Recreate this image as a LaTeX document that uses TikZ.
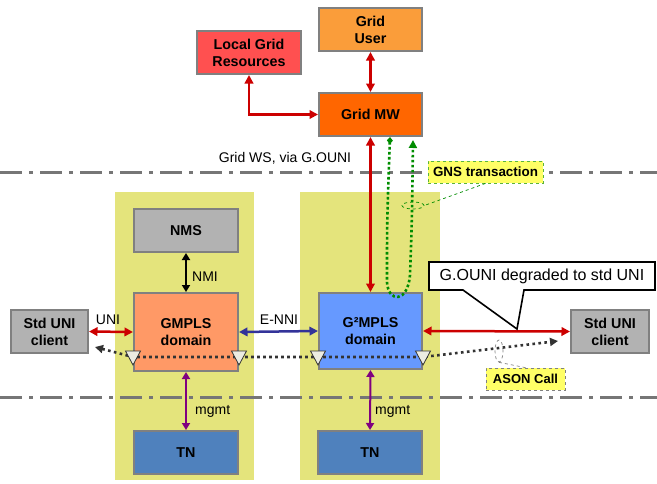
\documentclass[tikz,border=0pt]{standalone}
\usepackage{fontspec}
\setmainfont{Liberation Sans}
\usetikzlibrary{arrows.meta,shapes.geometric}
\definecolor{panel}{RGB}{228,228,124}
\definecolor{sepgray}{RGB}{118,118,118}
\definecolor{boxgray}{RGB}{128,128,128}
\definecolor{usercol}{RGB}{250,157,58}
\definecolor{lgrcol}{RGB}{255,80,80}
\definecolor{mwcol}{RGB}{255,102,0}
\definecolor{gmplscol}{RGB}{255,153,102}
\definecolor{gtwocol}{RGB}{102,153,255}
\definecolor{tncol}{RGB}{79,129,189}
\definecolor{graycol}{RGB}{178,178,178}
\definecolor{redA}{RGB}{204,0,0}
\definecolor{blueA}{RGB}{51,51,153}
\definecolor{purpA}{RGB}{128,0,128}
\definecolor{greenA}{RGB}{0,140,0}
\definecolor{greenL}{RGB}{90,180,60}
\definecolor{yellowL}{RGB}{255,255,102}
\definecolor{asongray}{RGB}{51,51,51}
\definecolor{trifill}{RGB}{236,236,226}
\begin{document}
\begin{tikzpicture}[x=1pt,y=-1pt,
  box/.style={draw=boxgray, line width=2pt, inner sep=0pt, align=center,
    font=\bfseries\fontsize{14.3}{17}\selectfont},
  lbl/.style={inner sep=0pt, font=\fontsize{14}{16}\selectfont},
  septline/.style={draw=sepgray, line width=3pt, dash pattern=on 22pt off 7pt on 4pt off 7pt},
  redarrow/.style={draw=redA, line width=2.5pt, {Triangle[length=8.5pt,width=8.5pt]}-{Triangle[length=8.5pt,width=8.5pt]}},
  bluearrow/.style={draw=blueA, line width=2.5pt, {Triangle[length=8.5pt,width=8.5pt]}-{Triangle[length=8.5pt,width=8.5pt]}},
  blackarrow/.style={draw=black, line width=2pt, {Triangle[length=7pt,width=8pt]}-{Triangle[length=7pt,width=8pt]}},
  purparrow/.style={draw=purpA, line width=2pt, {Triangle[length=7pt,width=8pt]}-{Triangle[length=7pt,width=8pt]}},
  gdot/.style={draw=greenA, line width=2.6pt, dash pattern=on 2.6pt off 2.4pt},
  asonline/.style={draw=asongray, line width=2.6pt, dash pattern=on 2.6pt off 3.4pt},
  tagbox/.style={inner sep=0pt, fill=yellowL},
  tri/.style={draw=asongray, line width=0.8pt, fill=trifill}
]
\useasboundingbox (0,0) rectangle (657,483);

% panels
\fill[panel] (115,192) rectangle (254,480);
\fill[panel] (300,192) rectangle (440,480);

% separator lines
\draw[septline] (0,172) -- (657,172);
\draw[septline] (0,397) -- (657,397);

% boxes
\node[box, fill=usercol, minimum width=103pt, minimum height=43pt] (user) at (370.5,29.5) {Grid\\User};
\node[box, fill=lgrcol, minimum width=104pt, minimum height=43pt] (lgr) at (249,52.5) {Local Grid\\Resources};
\node[box, fill=mwcol, minimum width=103pt, minimum height=43pt] (mw) at (370.5,114.5) {Grid MW};
\node[box, fill=graycol, minimum width=104pt, minimum height=43pt] (nms) at (186,230.5) {NMS};
\node[box, fill=gmplscol, minimum width=104pt, minimum height=78pt] (gmpls) at (186,332) {GMPLS\\domain};
\node[box, fill=gtwocol, minimum width=103pt, minimum height=76pt] (g2) at (370.5,331) {G²MPLS\\domain};
\node[box, fill=graycol, minimum width=77pt, minimum height=43pt] (cl) at (49.5,331.5) {Std UNI\\client};
\node[box, fill=graycol, minimum width=78pt, minimum height=43pt] (cr) at (610,331.5) {Std UNI\\client};
\node[box, fill=tncol, minimum width=104pt, minimum height=43pt] (tn1) at (186,452.5) {TN};
\node[box, fill=tncol, minimum width=104pt, minimum height=43pt] (tn2) at (370,452.5) {TN};

% connectors
\draw[redarrow] (user.south) -- (mw.north);
\draw[redarrow] (lgr.south) |- (mw.west);
\draw[redarrow] (mw.south) -- (g2.north);
\draw[redarrow] (cl.east) -- (gmpls.west);
\draw[bluearrow] (gmpls.east) -- (g2.west);
\draw[redarrow] (g2.east) -- (cr.west);
\draw[blackarrow] (nms.south) -- (gmpls.north);
\draw[purparrow] (gmpls.south) -- (tn1.north);
\draw[purparrow] (g2.south) -- (tn2.north);

% labels
\node[lbl] (lws) at (285,158) {Grid WS, via G.OUNI};
\node[lbl, anchor=west] (lnmi) at (192,277) {NMI};
\node[lbl] (luni) at (108,320) {UNI};
\node[lbl] (lenni) at (279,320) {E-NNI};
\node[lbl, anchor=west] (lm1) at (195,411) {mgmt};
\node[lbl, anchor=west] (lm2) at (375,411) {mgmt};

% GNS transaction loop
\coordinate (gA) at ([xshift=19.5pt]mw.south);
\coordinate (gB) at ([xshift=42.5pt,yshift=-3pt]mw.south);
\draw[gdot, {Diamond[length=7pt,width=6pt]}-{Triangle[length=8pt,width=8pt]}]
  (gA) .. controls (387,220) .. (387,282)
  .. controls (388,303) and (408,303) .. (410,275)
  .. controls (412,220) .. (gB);

% GNS transaction tag
\node[tagbox, draw=greenL, dashed, line width=0.8pt, minimum width=115pt, minimum height=22pt,
  font=\bfseries\fontsize{13.4}{15}\selectfont] (gns) at (485.5,172) {GNS transaction};
\node[draw=greenA, dashed, line width=0.7pt, ellipse, minimum width=22pt, minimum height=7pt, inner sep=0pt] (gnse) at (413,205.5) {};
\draw[draw=greenA, dashed, line width=0.7pt] (gns.south) -- (gnse.east);

% ASON call line
\coordinate (aL) at (95,347);
\coordinate (aR) at (558,341);
\coordinate (t1) at (133,357);
\coordinate (t2) at (239,357);
\coordinate (t3) at (318,357);
\coordinate (t4) at (423,357);
\draw[asonline, {Triangle[length=8pt,width=8pt]}-{Triangle[length=8pt,width=8pt]}] (aL) -- (t1) -- (t4) -- (aR);
\foreach \p in {t1,t2,t3,t4}{
  \draw[tri] ([shift={(-7.5,-6)}]\p) -- ([shift={(7.5,-6)}]\p) -- ([shift={(0,8)}]\p) -- cycle;
}

% ASON Call tag
\node[tagbox, draw=boxgray, dashed, line width=0.8pt, minimum width=79pt, minimum height=22pt,
  font=\bfseries\fontsize{13}{15}\selectfont] (ason) at (525.5,379) {ASON Call};
\node[draw=boxgray, dashed, line width=0.7pt, ellipse, minimum width=8pt, minimum height=22pt, inner sep=0pt] (asone) at (499,351) {};
\draw[draw=boxgray, dashed, line width=0.7pt] (asone.south) -- (ason.north);

% G.OUNI callout
\draw[line width=1.6pt, fill=white] (429,262) -- (655,262) -- (655,290) -- (524,290) -- (517,329) -- (463,290) -- (429,290) -- cycle;
\node[inner sep=0pt, font=\fontsize{16}{18}\selectfont] (gou) at (542,276) {G.OUNI degraded to std UNI};
\end{tikzpicture}
\end{document}
